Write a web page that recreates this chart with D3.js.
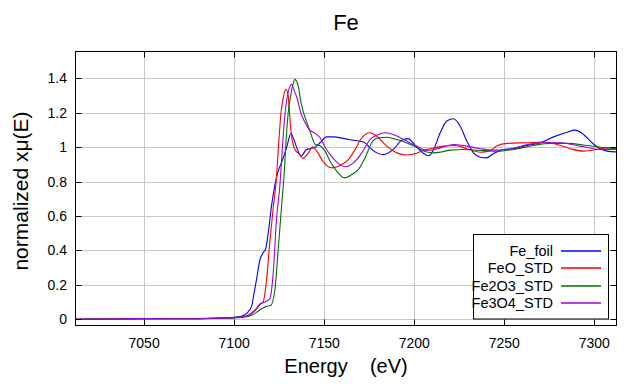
<!DOCTYPE html>
<html>
<head>
<meta charset="utf-8">
<script src="https://cdn.jsdelivr.net/npm/d3@7"></script>
<style>
  html, body { margin: 0; padding: 0; background: #fff; }
  svg { display: block; font-family: "Liberation Sans", Arial, sans-serif; }
</style>
</head>
<body>
<script>
// ---------------- data ----------------
const title = "Fe";
const xLabel = "Energy    (eV)";
const yLabel = "normalized xμ(E)";
const seriesNames = ["Fe_foil", "FeO_STD", "Fe2O3_STD", "Fe3O4_STD"];
const seriesColors = ["#0000ff", "#ff0000", "#007000", "#a000e6"];
const xTicks = [7050, 7100, 7150, 7200, 7250, 7300];
const yTicks = [0, 0.2, 0.4, 0.6, 0.8, 1, 1.2, 1.4];
const yTickLabels = ["0", "0.2", "0.4", "0.6", "0.8", "1", "1.2", "1.4"];

const feFoilE = [7012,7030,7050,7070,7090,7100,7104,7107,7109.7,7111,7112.4,7114.3,7116,7117.5,7118.9,7120.7,7122.6,7124.4,7126.3,7129.2,7131.5,7133.5,7135,7137.2,7140,7142.2,7145,7147.7,7151.4,7155.1,7160.7,7166.2,7171.8,7175.5,7179.2,7182.9,7188.4,7193,7196.5,7201.4,7205,7208,7210.7,7214.4,7218.1,7221.8,7225.5,7229.2,7232.9,7236.6,7240,7244,7249.6,7255.1,7262.6,7270,7277.4,7284.8,7289.3,7294,7298.7,7303.3,7307,7312];
const feFoilMu = [0,0.002,0.004,0.003,0.007,0.012,0.018,0.035,0.075,0.15,0.23,0.345,0.385,0.41,0.50,0.655,0.78,0.86,0.91,1.0,1.08,1.035,0.99,0.948,0.985,0.992,1.0,1.026,1.06,1.06,1.051,1.04,1.03,0.996,0.967,0.957,0.987,1.04,1.05,1.0,0.965,0.95,0.985,1.084,1.152,1.165,1.122,1.035,0.967,0.942,0.938,0.963,0.987,0.991,1.01,1.026,1.06,1.087,1.099,1.074,1.026,0.991,0.977,0.973];

const feoE = [7012,7030,7050,7070,7090,7100,7105,7108,7110,7112.4,7114.3,7116,7118,7119.8,7121.7,7123.3,7124.6,7126,7127.3,7128.8,7130,7131,7131.9,7133.7,7136.5,7138.2,7141.2,7143.6,7145.9,7148.7,7151.4,7154.2,7158.8,7163.4,7167.2,7170.9,7175.5,7179.2,7184.8,7190.3,7195.5,7201.4,7204,7208.8,7216.2,7222.7,7229.2,7236.6,7242,7246,7251.6,7262.6,7271.8,7279.2,7286.6,7294,7301.5,7307,7312];
const feoMu = [0,0.002,0.004,0.003,0.006,0.01,0.015,0.025,0.04,0.064,0.089,0.10,0.23,0.45,0.65,0.80,1.0,1.2,1.29,1.336,1.30,1.16,1.064,0.987,0.957,0.935,0.967,1.002,0.977,0.928,0.893,0.88,0.893,0.928,0.987,1.055,1.084,1.064,1.006,0.967,0.955,0.965,0.977,0.991,1.006,1.01,0.991,0.971,0.98,1.008,1.022,1.026,1.03,1.016,0.991,0.977,0.987,0.996,0.996];

const fe2o3E = [7012,7030,7050,7070,7090,7100,7106,7110,7113,7115.7,7118,7120.3,7122.6,7124.4,7126.5,7127.8,7128.6,7130,7131.4,7132.5,7133.7,7135.6,7136.6,7138,7139.5,7142.2,7145,7147.7,7150.5,7153.3,7157,7161.2,7165.3,7169,7172.7,7176.4,7180.1,7184.8,7190.3,7195.9,7201.4,7206,7210.7,7215,7220,7227.3,7236.6,7245.9,7255.1,7266.2,7275.5,7284.8,7295.9,7303.3,7312];
const fe2o3Mu = [0,0.002,0.004,0.003,0.005,0.008,0.013,0.025,0.045,0.064,0.075,0.08,0.17,0.40,0.68,0.85,1.0,1.2,1.3,1.36,1.394,1.355,1.29,1.22,1.17,1.09,1.016,1.008,0.977,0.918,0.86,0.822,0.841,0.87,0.938,1.026,1.055,1.058,1.045,1.025,0.998,0.975,0.967,0.972,0.983,0.987,0.981,0.977,0.987,1.01,1.022,1.022,1.01,1.0,0.991];

const fe3o4E = [7012,7030,7050,7070,7090,7100,7106,7110,7112.5,7114.8,7117,7119.8,7121.7,7123.5,7125.4,7126.8,7128.3,7129.6,7130.7,7131.8,7133.7,7134.8,7137,7139.3,7141.5,7145,7147.7,7150.5,7153.3,7157,7161.6,7166.2,7170.9,7175.5,7180.1,7183.8,7188.4,7193.1,7197.7,7203.3,7205.1,7209,7212.6,7221.8,7229.2,7236.6,7244,7251.6,7260.7,7270,7281.1,7292.2,7303.3,7312];
const fe3o4Mu = [0,0.002,0.004,0.003,0.006,0.01,0.016,0.035,0.06,0.09,0.10,0.12,0.27,0.58,0.78,1.0,1.2,1.3,1.346,1.365,1.32,1.29,1.2,1.145,1.105,1.08,1.055,1.0,0.957,0.913,0.886,0.909,0.967,1.045,1.074,1.084,1.074,1.051,1.024,0.996,0.985,0.982,0.991,1.016,1.006,0.991,0.983,0.987,1.01,1.026,1.026,1.006,0.987,0.987];

const seriesE = [feFoilE, feoE, fe2o3E, fe3o4E];
const seriesMu = [feFoilMu, feoMu, fe2o3Mu, fe3o4Mu];

// ---------------- layout ----------------
const W = 640, H = 384;
const L = 75.5, R = 616.5, T = 51.5, B = 325.5;

const svg = d3.select("body").append("svg").attr("width", W).attr("height", H);

const x = d3.scaleLinear().domain([7011.9, 7312.3]).range([L, R]);
const y = d3.scaleLinear().domain([-0.036, 1.556]).range([B, T]);

// grid
const grid = svg.append("g");
grid.selectAll("line.vx").data(xTicks).enter().append("line")
  .attr("x1", d => Math.round(x(d)) + 0.5).attr("x2", d => Math.round(x(d)) + 0.5)
  .attr("y1", T).attr("y2", B).attr("stroke", "#c8c8c8").attr("stroke-width", 1);
grid.selectAll("line.hy").data(yTicks).enter().append("line")
  .attr("y1", d => Math.round(y(d)) + 0.5).attr("y2", d => Math.round(y(d)) + 0.5)
  .attr("x1", L).attr("x2", R).attr("stroke", "#c8c8c8").attr("stroke-width", 1);

// curves
const line = d3.line().curve(d3.curveMonotoneX).x(d => x(d[0])).y(d => y(d[1]));
const plot = svg.append("g");
seriesNames.forEach((name, i) => {
  const pts = seriesE[i].map((e, j) => [e, seriesMu[i][j]]);
  plot.append("path").datum(pts)
    .attr("d", line).attr("fill", "none")
    .attr("stroke", seriesColors[i]).attr("stroke-width", 1.1);
});

// ticks (inward on all four sides)
const tk = 6;
const ticks = svg.append("g").attr("stroke", "#000").attr("stroke-width", 1);
xTicks.forEach(d => {
  const px = Math.round(x(d)) + 0.5;
  ticks.append("line").attr("x1", px).attr("x2", px).attr("y1", B).attr("y2", B - tk);
  ticks.append("line").attr("x1", px).attr("x2", px).attr("y1", T).attr("y2", T + tk);
});
yTicks.forEach(d => {
  const py = Math.round(y(d)) + 0.5;
  ticks.append("line").attr("y1", py).attr("y2", py).attr("x1", L).attr("x2", L + tk);
  ticks.append("line").attr("y1", py).attr("y2", py).attr("x1", R).attr("x2", R - tk);
});

// frame
svg.append("rect").attr("x", L).attr("y", T).attr("width", R - L).attr("height", B - T)
  .attr("fill", "none").attr("stroke", "#000").attr("stroke-width", 1);

// tick labels
svg.append("g").selectAll("text").data(xTicks).enter().append("text")
  .attr("x", d => x(d)).attr("y", 348).attr("text-anchor", "middle")
  .attr("font-size", 14).attr("fill", "#000").text(d => d);
svg.append("g").selectAll("text").data(yTicks).enter().append("text")
  .attr("x", 67).attr("y", d => y(d) + 5).attr("text-anchor", "end")
  .attr("font-size", 14).attr("fill", "#000").text((d, i) => yTickLabels[i]);

// titles
svg.append("text").attr("x", 346).attr("y", 30).attr("text-anchor", "middle")
  .attr("font-size", 22).attr("fill", "#000").text(title);
svg.append("text").attr("x", 346).attr("y", 373).attr("text-anchor", "middle")
  .attr("font-size", 20).attr("fill", "#000").style("white-space", "pre").text(xLabel);
svg.append("text").attr("transform", "translate(28,191) rotate(-90)")
  .attr("text-anchor", "middle").attr("font-size", 21).attr("fill", "#000").text(yLabel);

// legend
const lg = svg.append("g");
lg.append("rect").attr("x", 473.5).attr("y", 234.5).attr("width", 135).attr("height", 84.5)
  .attr("fill", "#fff").attr("stroke", "#000").attr("stroke-width", 1);
const rowY = [251, 268.3, 285.6, 302.9];
seriesNames.forEach((name, i) => {
  lg.append("text").attr("x", 553).attr("y", rowY[i] + 5).attr("text-anchor", "end")
    .attr("font-size", 14.5).attr("fill", "#000").text(name);
  lg.append("line").attr("x1", 561).attr("x2", 601)
    .attr("y1", Math.round(rowY[i])).attr("y2", Math.round(rowY[i]))
    .attr("stroke", seriesColors[i]).attr("stroke-width", 1.5);
});
</script>
</body>
</html>
